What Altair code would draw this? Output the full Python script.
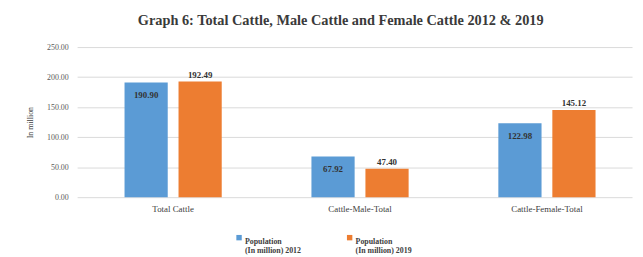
import altair as alt
import pandas as pd

categories = ["Total Cattle", "Cattle-Male-Total", "Cattle-Female-Total"]
years = ["2012", "2019"]
values_2012 = [190.90, 67.92, 122.98]
values_2019 = [192.49, 47.40, 145.12]
colors = ["#5B9BD5", "#ED7D31"]

rows = []
for c, v in zip(categories, values_2012):
    rows.append({"category": c, "year": "2012", "value": v})
for c, v in zip(categories, values_2019):
    rows.append({"category": c, "year": "2019", "value": v})
df = pd.DataFrame(rows)

FONT = "Liberation Serif"

x = alt.X("category:N", sort=categories, title=None,
          scale=alt.Scale(paddingInner=0.48, paddingOuter=0.2245, align=0.565),
          axis=alt.Axis(labelAngle=0, domain=False, ticks=False, labelPadding=8,
                        labelFontSize=9, labelColor="#404040", labelFont=FONT))
xo = alt.XOffset("year:N", sort=years, scale=alt.Scale(paddingInner=0.2, paddingOuter=0))
y = alt.Y("value:Q", title="In million",
          scale=alt.Scale(domain=[0, 250], nice=False),
          axis=alt.Axis(values=[0, 50, 100, 150, 200, 250], format=".2f", domain=False,
                        ticks=False, labelPadding=9, labelFontSize=8, labelColor="#595959",
                        labelFont=FONT, titleFont=FONT, titleFontSize=8,
                        titleFontWeight="normal", titleColor="#404040", titlePadding=12,
                        gridColor="#d9d9d9", gridWidth=1))
color = alt.Color("year:N", sort=years, scale=alt.Scale(domain=years, range=colors),
                  legend=alt.Legend(title=None, orient="none", direction="horizontal",
                                    legendX=160, legendY=189,
                                    symbolType="square", symbolSize=30,
                                    symbolStrokeWidth=0, labelFont=FONT,
                                    labelFontSize=8, labelFontWeight="bold",
                                    labelColor="#404040",
                                    labelExpr="['Population', '(In million) ' + datum.label]",
                                    labelBaseline="top", labelOffset=2,
                                    columnPadding=45, labelLimit=200))

base = alt.Chart(df)

bars = base.mark_bar().encode(x=x, xOffset=xo, y=y, color=color)

lab_in = base.transform_filter(alt.datum.year == "2012").mark_text(
    baseline="top", dy=9, font=FONT, fontSize=9, fontWeight="bold", color="#333333"
).encode(x=x, xOffset=xo, y=y, text=alt.Text("value:Q", format=".2f"))

lab_out = base.transform_filter(alt.datum.year == "2019").mark_text(
    baseline="bottom", dy=-2, font=FONT, fontSize=9, fontWeight="bold", color="#333333"
).encode(x=x, xOffset=xo, y=y, text=alt.Text("value:Q", format=".2f"))

chart = alt.layer(bars, lab_in, lab_out).properties(
    width=562, height=152,
    autosize=alt.AutoSizeParams(type="none"),
    padding={"left": 70, "top": 38, "right": 3, "bottom": 58},
    background="white",
    title=alt.TitleParams("Graph 6: Total Cattle, Male Cattle and Female Cattle 2012 & 2019",
                          font=FONT, fontSize=14.5, fontWeight="bold", color="#3a3a3a",
                          anchor="middle", dx=-14, offset=15),
).configure_view(stroke=None)

chart.save("out.html", embed_options={"renderer": "svg", "actions": False})
